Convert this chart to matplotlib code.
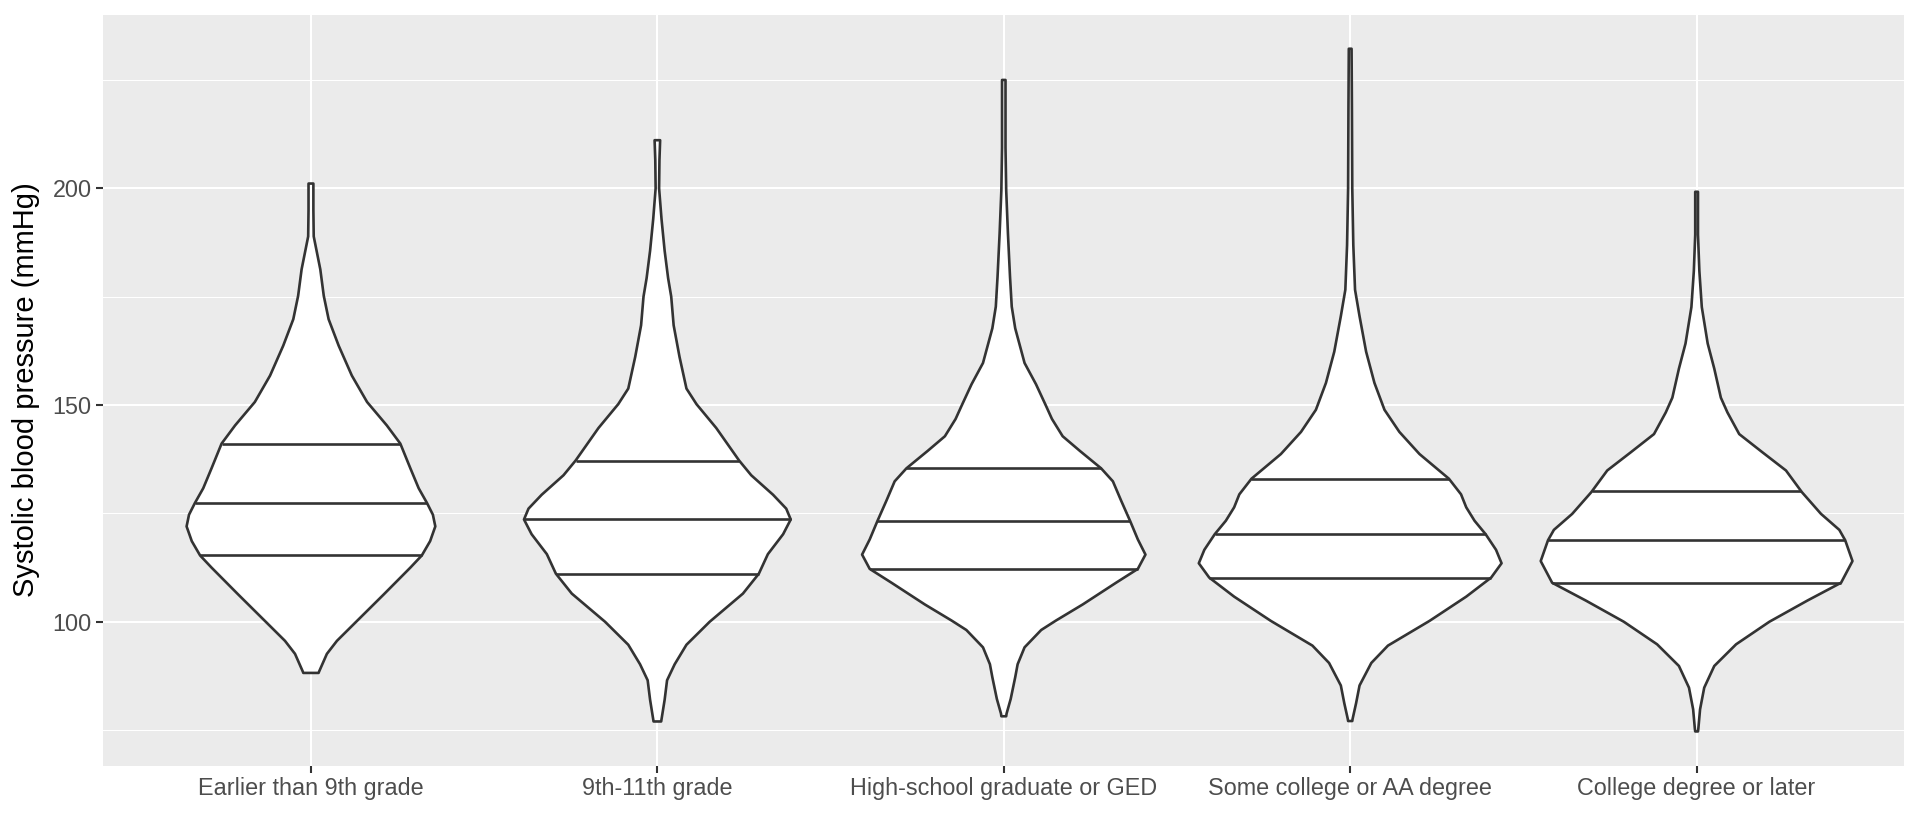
import numpy as np
import matplotlib as mpl
import matplotlib.pyplot as plt

# categories on the x axis
groups = ['Earlier than 9th grade', '9th-11th grade', 'High-school graduate or GED',
          'Some college or AA degree', 'College degree or later']

# violin outlines: blood pressure level and half width (in category units)
earlier_bp = [88.2, 88.6, 92.6, 95.6, 100.2, 106.3, 112.5, 115.3, 118.6, 122.0, 124.7, 127.4,
              130.8, 135.4, 141.1, 145.3, 150.7, 156.8, 163.7, 169.8, 175.2, 181.3, 188.9,
              195.0, 201.1]
earlier_hw = [0.022, 0.024, 0.046, 0.075, 0.133, 0.210, 0.287, 0.320, 0.344, 0.359, 0.352, 0.335,
              0.311, 0.287, 0.258, 0.219, 0.162, 0.118, 0.080, 0.051, 0.037, 0.027, 0.008,
              0.007, 0.007]

grade11_bp = [77.0, 77.5, 82.0, 86.5, 90.2, 94.7, 100.0, 106.5, 111.1, 115.6, 120.2, 123.6,
              126.1, 129.3, 133.8, 137.2, 144.7, 150.2, 153.8, 161.1, 168.4, 175.0, 179.3,
              185.6, 192.9, 200.0, 206.5, 211.1]
grade11_hw = [0.011, 0.012, 0.021, 0.028, 0.050, 0.084, 0.151, 0.247, 0.293, 0.319, 0.363, 0.385,
              0.372, 0.334, 0.271, 0.236, 0.170, 0.113, 0.084, 0.064, 0.047, 0.040, 0.031,
              0.021, 0.012, 0.005, 0.006, 0.008]

hs_bp = [78.2, 78.8, 82.2, 87.2, 90.2, 94.1, 98.1, 100.3, 104.0, 109.0, 112.2, 115.5, 119.0,
         123.2, 127.9, 132.4, 135.4, 139.4, 142.8, 146.8, 149.8, 154.8, 159.7, 167.7,
         172.7, 179.6, 189.6, 199.5, 209.4, 225.0]
hs_hw = [0.007, 0.008, 0.020, 0.033, 0.040, 0.060, 0.108, 0.151, 0.228, 0.324, 0.387, 0.409, 0.387,
         0.365, 0.339, 0.315, 0.281, 0.220, 0.170, 0.139, 0.122, 0.093, 0.060, 0.033,
         0.023, 0.018, 0.012, 0.007, 0.005, 0.005]

somecol_bp = [77.1, 77.6, 81.2, 85.3, 90.5, 94.5, 100.2, 105.8, 110.2, 113.5, 116.6, 120.2,
              123.3, 126.4, 129.4, 133.0, 138.7, 143.8, 148.9, 155.1, 162.3, 170.5, 176.6,
              186.9, 200.0, 218.7, 232.2]
somecol_hw = [0.006, 0.007, 0.017, 0.027, 0.061, 0.109, 0.229, 0.335, 0.407, 0.437, 0.421, 0.391,
              0.359, 0.335, 0.320, 0.285, 0.200, 0.142, 0.099, 0.070, 0.046, 0.027, 0.014,
              0.009, 0.006, 0.005, 0.004]

college_bp = [74.7, 75.3, 79.8, 84.8, 89.8, 94.8, 100.0, 104.9, 109.0, 114.0, 118.8, 121.2,
              124.9, 129.9, 134.9, 139.1, 143.3, 148.3, 151.7, 158.4, 164.2, 172.6, 180.9,
              189.3, 199.2]
college_hw = [0.004, 0.005, 0.010, 0.022, 0.051, 0.114, 0.210, 0.320, 0.417, 0.450, 0.429, 0.412,
              0.359, 0.304, 0.258, 0.190, 0.123, 0.089, 0.070, 0.051, 0.032, 0.015, 0.008,
              0.004, 0.004]

# 25th, 50th, 75th percentiles per group
quantiles = [[115.3, 127.4, 141.1],
             [111.1, 123.6, 137.2],
             [112.2, 123.2, 135.4],
             [110.2, 120.2, 133.0],
             [109.0, 118.9, 130.1]]

profiles = [(earlier_bp, earlier_hw), (grade11_bp, grade11_hw), (hs_bp, hs_hw),
            (somecol_bp, somecol_hw), (college_bp, college_hw)]

mpl.rcParams['font.family'] = ['Liberation Sans', 'DejaVu Sans']

fig = plt.figure(figsize=(19.2, 8.16), dpi=100)
ax = fig.add_axes([0.0537, 0.0618, 0.9382, 0.9203])
ax.set_facecolor('#EBEBEB')
for s in ax.spines.values():
    s.set_visible(False)

# y range with ggplot style 5% expansion
lo = min(min(p[0]) for p in profiles)
hi = max(max(p[0]) for p in profiles)
pad = 0.05 * (hi - lo)
ax.set_ylim(lo - pad, hi + pad)
ax.set_xlim(-0.6, len(groups) - 0.4)

ax.set_yticks([100, 150, 200])
ax.set_yticks([75, 125, 175, 225], minor=True)
ax.set_xticks(range(len(groups)))
ax.set_xticklabels(groups)
ax.grid(True, which='major', color='white', linewidth=1.5)
ax.grid(True, which='minor', axis='y', color='white', linewidth=0.75)
ax.set_axisbelow(True)

ax.tick_params(axis='both', which='major', length=5.2, width=1.5, color='#333333',
               labelsize=16.8, labelcolor='#4D4D4D', pad=3)
ax.tick_params(axis='y', which='minor', length=0)
ax.set_ylabel('Systolic blood pressure (mmHg)', fontsize=21, color='black', va='center')
ax.yaxis.set_label_coords(-0.0428, 0.5)

for i, (bp, hw) in enumerate(profiles):
    bp = np.array(bp)
    hw = np.array(hw)
    xs = np.concatenate([i - hw, (i + hw)[::-1]])
    ys = np.concatenate([bp, bp[::-1]])
    ax.fill(xs, ys, facecolor='white', edgecolor='#333333', linewidth=1.9,
            joinstyle='round', zorder=3)
    for q in quantiles[i]:
        w = np.interp(q, bp, hw)
        ax.plot([i - w, i + w], [q, q], color='#333333', linewidth=1.9, zorder=4,
                solid_capstyle='butt')

fig.savefig('out.png', dpi=100)
